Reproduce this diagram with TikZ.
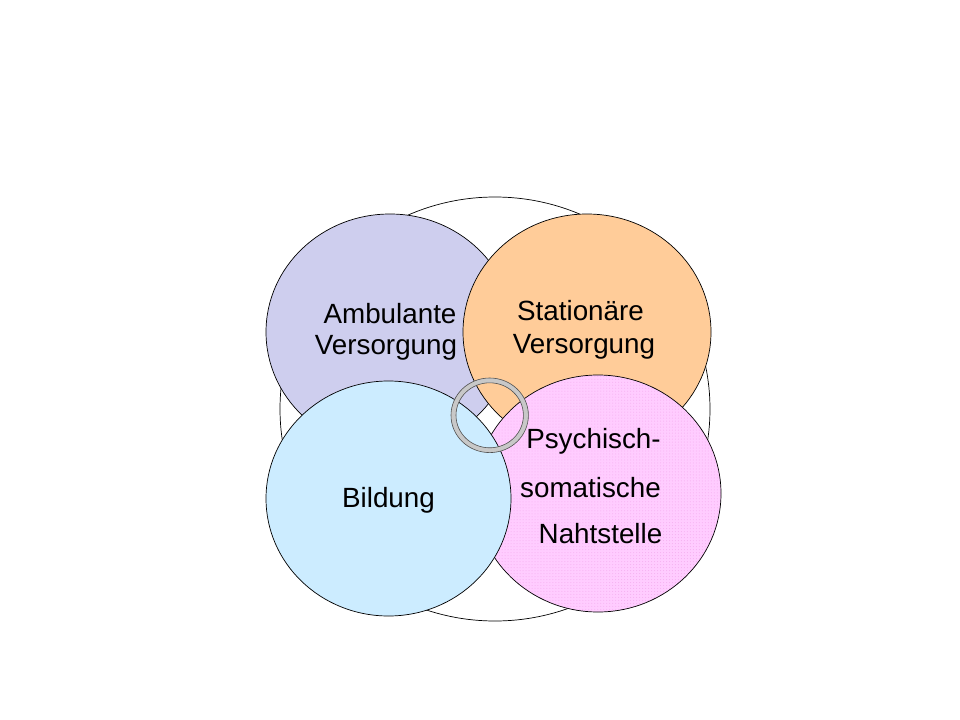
\documentclass[tikz,border=0pt]{standalone}
\usepackage{fontspec}
\setmainfont{Liberation Sans}
\usetikzlibrary{patterns}
\definecolor{lav}{RGB}{206,206,238}
\definecolor{peach}{RGB}{255,204,153}
\definecolor{sky}{RGB}{204,236,255}
\definecolor{rose}{RGB}{255,204,255}
\definecolor{rosedot}{RGB}{245,175,240}
\definecolor{ringgray}{RGB}{200,200,200}
\definecolor{ringline}{RGB}{80,80,80}
\begin{document}
\begin{tikzpicture}[x=1bp,y=-1bp,
  blob/.style={draw=black,line width=0.7bp},
  lbl/.style={font=\fontsize{27.8bp}{32bp}\selectfont, anchor=base, inner sep=0pt, text=black}]
\useasboundingbox (0,0) rectangle (960,720);
\fill[white] (0,0) rectangle (960,720);
% outer white circle
\draw[blob, fill=white] (495,409) ellipse [x radius=215, y radius=212];
% four coloured circles
\draw[blob, fill=lav] (390,332) ellipse [x radius=124, y radius=118];
\draw[blob, fill=peach] (587,332) ellipse [x radius=124, y radius=118];
\fill[rose] (598,493.5) ellipse [x radius=123, y radius=118.5];
\fill[pattern=dots, pattern color=rosedot] (598,493.5) ellipse [x radius=123, y radius=118.5];
\draw[blob] (598,493.5) ellipse [x radius=123, y radius=118.5];
\draw[blob, fill=sky] (388.5,498.5) ellipse [x radius=122.5, y radius=117.5];
% ring
\fill[ringgray, even odd rule] (489.7,415.3) ellipse [x radius=38.7, y radius=37.3]
  (489.7,415.3) ellipse [x radius=33.7, y radius=32.5];
\draw[ringline, line width=0.6bp] (489.7,415.3) ellipse [x radius=38.7, y radius=37.3];
\draw[ringline, line width=0.6bp] (489.7,415.3) ellipse [x radius=33.7, y radius=32.5];
% labels
\node[lbl] (amb1) at (390,323) {Ambulante};
\node[lbl] (amb2) at (386,354) {Versorgung};
\node[lbl] (sta1) at (580.5,320) {Stationäre};
\node[lbl] (sta2) at (584,353) {Versorgung};
\node[lbl] (bil) at (388.5,507) {Bildung};
\node[lbl] (psy1) at (593.5,448) {Psychisch-};
\node[lbl] (psy2) at (590.5,497) {somatische};
\node[lbl] (psy3) at (600.5,543) {Nahtstelle};
\end{tikzpicture}
\end{document}
